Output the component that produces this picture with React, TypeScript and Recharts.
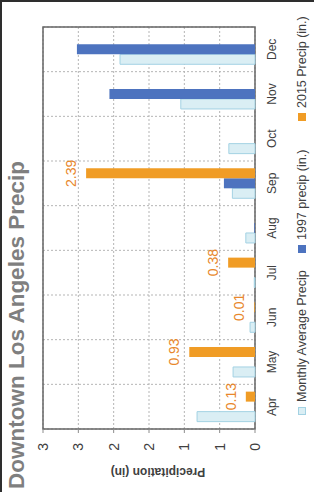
import React from 'react';
import { BarChart, Bar, XAxis, YAxis, CartesianGrid, LabelList, ReferenceArea } from 'recharts';

const months = ['Apr', 'May', 'Jun', 'Jul', 'Aug', 'Sep', 'Oct', 'Nov', 'Dec'];
const monthlyAverage = [0.82, 0.31, 0.07, 0.01, 0.13, 0.32, 0.37, 1.05, 1.91];
const precip1997 = [0, 0, 0, 0, 0.01, 0.44, 0, 2.06, 2.52];
const precip2015: (number | null)[] = [0.13, 0.93, 0.01, 0.38, 0, 2.39, null, null, null];
const valueTicks = [0, 0.5, 1, 1.5, 2, 2.5, 3];

const seriesNames = ['Monthly Average Precip', '1997 precip (in.)', '2015 Precip (in.)'];
const title = 'Downtown Los Angeles Precip';
const yLabel = 'Precipitation (in)';

const data = months.map((m, i) => ({
  month: m,
  avg: monthlyAverage[i],
  p1997: precip1997[i],
  p2015: precip2015[i],
  slot: i,
}));
const boundaryTicks = months.map((_, i) => i).concat([months.length]);

const FONT = '"Liberation Sans", Arial, sans-serif';
const C_AVG = '#DAEEF4';
const C_AVG_STROKE = '#A3D2E3';
const C_1997 = '#4D73BF';
const C_2015 = '#F09C25';
const C_LABEL = '#E8872B';
const C_TEXT = '#404040';

const W = 492;
const H = 314;

const legendItems = [
  { name: seriesNames[0], color: C_AVG, border: C_AVG_STROKE, left: 77 },
  { name: seriesNames[1], color: C_1997, border: C_1997, left: 239 },
  { name: seriesNames[2], color: C_2015, border: C_2015, left: 371 },
];

export default function App() {
  return (
    <div
      style={{
        position: 'fixed',
        left: 0,
        top: 0,
        width: 314,
        height: 492,
        overflow: 'hidden',
        background: '#fff',
      }}
    >
      <div
        style={{
          position: 'absolute',
          left: 0,
          top: 0,
          width: W,
          height: H,
          transformOrigin: '0 0',
          transform: `translate(0px, ${W}px) rotate(-90deg)`,
          background: '#fff',
          fontFamily: FONT,
        }}
      >
        <div
          style={{
            position: 'absolute',
            left: 3,
            top: 5,
            fontSize: 22.5,
            lineHeight: '23px',
            fontWeight: 700,
            color: '#7F7F7F',
            whiteSpace: 'nowrap',
            fontFamily: FONT,
          }}
        >
          {title}
        </div>
        <BarChart
          width={W}
          height={H}
          data={data}
          margin={{ top: 43, right: 27, bottom: 24, left: 0 }}
          barCategoryGap="16.5%"
          barGap={0}
          style={{ fontFamily: FONT }}
        >
          <XAxis
            xAxisId="b"
            type="number"
            dataKey="slot"
            domain={[0, months.length]}
            ticks={boundaryTicks}
            allowDataOverflow
            tickFormatter={() => ''}
            tickSize={4}
            tickLine={{ stroke: '#8C8C8C' }}
            axisLine={false}
            height={0}
          />
          <XAxis
            dataKey="month"
            type="category"
            axisLine={false}
            tickLine={false}
            tickSize={4}
            tickMargin={8}
            height={35}
            interval={0}
            tick={{ fontSize: 12, fill: C_TEXT, fontFamily: FONT }}
          />
          <YAxis
            width={63}
            domain={[0, 3]}
            ticks={valueTicks}
            tickFormatter={(v: number) => String(Math.round(v))}
            axisLine={false}
            tickLine={{ stroke: '#8C8C8C' }}
            tickSize={4}
            tickMargin={10}
            tick={{ fontSize: 14, fill: C_TEXT, fontFamily: FONT }}
            label={{
              value: yLabel,
              angle: -90,
              position: 'insideLeft',
              offset: 20,
              dy: 9,
              style: { textAnchor: 'middle', fontWeight: 700, fontSize: 12, fill: C_TEXT, fontFamily: FONT },
            }}
          />
          <CartesianGrid
            xAxisId="b"
            stroke="#B5B5B5"
            strokeDasharray="2 2"
          />
          <Bar dataKey="avg" fill={C_AVG} stroke={C_AVG_STROKE} strokeWidth={1} isAnimationActive={false} />
          <Bar dataKey="p1997" fill={C_1997} isAnimationActive={false} />
          <Bar dataKey="p2015" fill={C_2015} isAnimationActive={false}>
            <LabelList
              dataKey="p2015"
              position="top"
              offset={10}
              fill={C_LABEL}
              style={{ fontSize: 14, fontFamily: FONT }}
            />
          </Bar>
          <ReferenceArea
            xAxisId="b"
            x1={0}
            x2={months.length}
            y1={0}
            y2={3}
            fill="none"
            fillOpacity={0}
            stroke="#666666"
            strokeWidth={1.5}
            ifOverflow="visible"
          />
        </BarChart>
        {legendItems.map((it) => (
          <div
            key={it.name}
            style={{
              position: 'absolute',
              left: it.left,
              top: 294,
              height: 16,
              display: 'flex',
              alignItems: 'center',
              whiteSpace: 'nowrap',
              fontSize: 12.5,
              color: C_TEXT,
              fontFamily: FONT,
            }}
          >
            <span
              style={{
                display: 'inline-block',
                width: 6,
                height: 6,
                background: it.color,
                border: `1px solid ${it.border}`,
                marginRight: 5,
              }}
            />
            <span>{it.name}</span>
          </div>
        ))}
      </div>
      <div style={{ position: 'absolute', left: 0, top: 0, width: 314, height: 2, background: '#2E2E2E' }} />
      <div style={{ position: 'absolute', left: 0, top: 0, width: 2, height: 492, background: '#2E2E2E' }} />
    </div>
  );
}
